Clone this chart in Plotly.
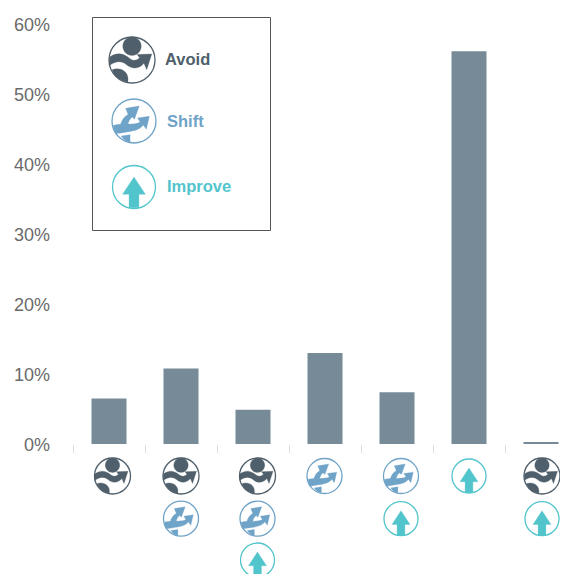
import plotly.graph_objects as go

categories = ["Avoid", "Avoid + Shift", "Avoid + Shift + Improve", "Shift",
              "Shift + Improve", "Improve", "Avoid + Improve"]
shares = [6.5, 10.8, 4.9, 13.0, 7.4, 56.1, 0.15]
y_ticks = [0, 10, 20, 30, 40, 50, 60]
y_tick_labels = ["0%", "10%", "20%", "30%", "40%", "50%", "60%"]
legend_names = ["Avoid", "Shift", "Improve"]

BAR = "#768a97"
COLORS = {"Avoid": "#4f5f6b", "Shift": "#6fa3c7", "Improve": "#52c5cc"}

W, H = 552, 566   # the page body adds an 8 px margin
L, T, B = 65, 16, 130
PW, PH = W - L, H - T - B
PLOT_LEFT_PAGE, PLOT_BOTTOM_PAGE = L + 8, T + PH + 8


def px(x):
    return (x - PLOT_LEFT_PAGE) / PW


def py(y):
    return (PLOT_BOTTOM_PAGE - y) / PH


def path(cmds, cx, cy, r):
    out = []
    for c in cmds:
        out.append(c[0])
        nums = c[1:]
        pts = [f"{px(cx + nums[i] * r):.5f},{py(cy + nums[i + 1] * r):.5f}"
               for i in range(0, len(nums), 2)]
        out.append(" ".join(pts))
    return " ".join(out)


def circle(ux, uy, ur):
    k = 0.5523 * ur
    return [("M", ux - ur, uy),
            ("C", ux - ur, uy - k, ux - k, uy - ur, ux, uy - ur),
            ("C", ux + k, uy - ur, ux + ur, uy - k, ux + ur, uy),
            ("C", ux + ur, uy + k, ux + k, uy + ur, ux, uy + ur),
            ("C", ux - k, uy + ur, ux - ur, uy + k, ux - ur, uy),
            ("Z",)]


GLYPHS = {
    "Avoid": [
        circle(0, -0.6, 0.4),
        [("M", -0.98, -0.12), ("C", -0.65, -0.36, -0.35, -0.28, -0.1, -0.07),
         ("C", 0.05, 0.05, 0.2, 0.03, 0.33, -0.1), ("L", 0.22, -0.24),
         ("L", 0.86, -0.26), ("L", 0.64, 0.42), ("L", 0.52, 0.14),
         ("C", 0.3, 0.4, 0, 0.42, -0.25, 0.2),
         ("C", -0.45, 0.03, -0.7, 0.03, -0.98, 0.24), ("Z",)],
        [("M", -0.86, 0.42), ("C", -0.5, 0.3, -0.1, 0.5, -0.18, 0.97),
         ("C", -0.55, 0.88, -0.8, 0.67, -0.86, 0.42), ("Z",)],
    ],
    "Shift": [
        [("M", -0.62, 0.22), ("C", -0.58, -0.05, -0.42, -0.22, -0.27, -0.3),
         ("L", -0.38, -0.58), ("L", 0.24, -0.68), ("L", 0.02, -0.08),
         ("L", -0.08, -0.18), ("C", -0.2, -0.08, -0.25, 0.02, -0.27, 0.15), ("Z",)],
        [("M", -0.95, 0.2), ("C", -0.5, 0.08, 0, 0.22, 0.28, 0.05),
         ("L", 0.16, -0.14), ("L", 0.7, -0.22), ("L", 0.56, 0.38), ("L", 0.42, 0.18),
         ("C", 0.25, 0.42, 0, 0.46, -0.85, 0.58), ("Z",)],
        [("M", -0.58, 0.68), ("L", -0.18, 0.62), ("L", -0.18, 0.97),
         ("C", -0.35, 0.93, -0.48, 0.85, -0.58, 0.68), ("Z",)],
    ],
    "Improve": [
        [("M", 0, -0.47), ("L", 0.53, 0.34), ("L", 0.23, 0.34), ("L", 0.23, 0.97),
         ("L", -0.23, 0.97), ("L", -0.23, 0.34), ("L", -0.53, 0.34), ("Z",)],
    ],
}


def icon(name, cx, cy, r):
    col = COLORS[name]
    shapes = [dict(type="path", xref="paper", yref="paper",
                   path=path(circle(0, 0, 1), cx, cy, r),
                   line=dict(color=col, width=1.3), fillcolor="white")]
    for g in GLYPHS[name]:
        shapes.append(dict(type="path", xref="paper", yref="paper",
                           path=path(g, cx, cy, r),
                           line=dict(color=col, width=0.3), fillcolor=col))
    return shapes


shapes = [dict(type="rect", xref="paper", yref="paper",
               x0=px(92.5), x1=px(270.5), y0=py(230.5), y1=py(17.5),
               line=dict(color="#555555", width=1), fillcolor="white")]

LEGEND_POS = {"Avoid": (132, 60, 23), "Shift": (134, 121, 22), "Improve": (134, 187, 21.5)}
for name in legend_names:
    shapes += icon(name, *LEGEND_POS[name])

ICON_X = [112.5, 181, 257.5, 324.5, 401, 469, 542]
ROW_Y = [476, 518.7, 560]
SIZE = {"Avoid": 18, "Shift": 17.5, "Improve": 17}
for cat, x in zip(categories, ICON_X):
    for row, name in enumerate(cat.split(" + ")):
        shapes += icon(name, x, ROW_Y[row], SIZE[name])

LABEL_POS = {"Avoid": (164, 59), "Shift": (166, 121), "Improve": (166, 186)}
annotations = [dict(xref="paper", yref="paper", x=px(LABEL_POS[n][0]), y=py(LABEL_POS[n][1]),
                    xanchor="left", yanchor="middle", text=f"<b>{n}</b>", showarrow=False,
                    borderpad=0, font=dict(family="Liberation Sans", size=16.5, color=COLORS[n]))
               for n in legend_names]

fig = go.Figure(go.Bar(x=categories, y=shares, width=0.486,
                       marker=dict(color=BAR, line=dict(width=0)),
                       hoverinfo="skip"))
fig.update_layout(
    width=W, height=H, margin=dict(l=L, r=0, t=T, b=B, pad=0),
    paper_bgcolor="white", plot_bgcolor="white", showlegend=False,
    shapes=shapes, annotations=annotations,
    xaxis=dict(type="category", categoryorder="array", categoryarray=categories,
               range=[-0.5, PW / 72 - 0.5], tickson="boundaries",
               ticks="outside", ticklen=8, tickwidth=1, tickcolor="#dddddd",
               showticklabels=False, showgrid=False, showline=False, zeroline=False),
    yaxis=dict(range=[0, 60], tickvals=y_ticks, ticktext=y_tick_labels,
               ticks="", ticklabelstandoff=22, ticklabelshift=1,
               showgrid=False, showline=False, zeroline=False,
               tickfont=dict(family="Liberation Sans", size=18, color="#6a6a6a")),
)
fig.write_html("out.html")
